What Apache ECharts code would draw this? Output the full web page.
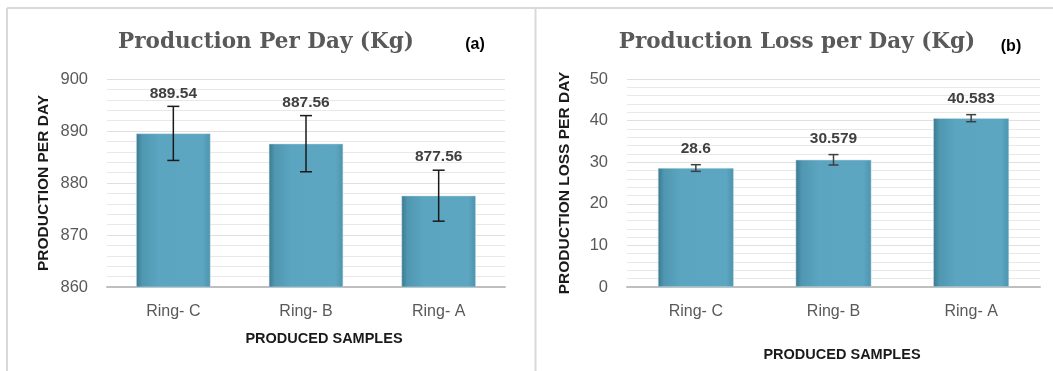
<!DOCTYPE html>
<html><head><meta charset="utf-8">
<script src="https://cdn.jsdelivr.net/npm/echarts@6/dist/echarts.min.js"></script>
<style>html,body{margin:0;padding:0;background:#fff}#c{width:1053px;height:371px}</style>
</head><body><div id="c"></div>
<script>
const categories = ['Ring- C', 'Ring- B', 'Ring- A'];
const productionValues = [889.54, 887.56, 877.56];
const productionErrors = [5.2, 5.4, 4.9];
const lossValues = [28.6, 30.579, 40.583];
const lossErrors = [0.8, 1.25, 0.85];
const productionTicks = { min: 860, max: 900, interval: 10 };
const lossTicks = { min: 0, max: 50, interval: 10 };

const chart = echarts.init(document.getElementById('c'), null, { renderer: 'canvas' });
const barColor = new echarts.graphic.LinearGradient(0, 0, 1, 0, [
  { offset: 0, color: '#3b7890' },
  { offset: 0.08, color: '#5097b1' },
  { offset: 0.3, color: '#5ba5c0' },
  { offset: 0.9, color: '#5ca6c1' },
  { offset: 1, color: '#4d93ac' }
]);
const sans = '"Liberation Sans", Arial, sans-serif';

function errSeries(xi, yi, values, errors, color, cap, labelGap) {
  return {
    type: 'custom', xAxisIndex: xi, yAxisIndex: yi, z: 10,
    data: values.map((v, i) => [i, v, errors[i]]),
    renderItem: function (params, api) {
      const i = api.value(0), v = api.value(1), e = api.value(2);
      const top = api.coord([i, v + e]);
      const bot = api.coord([i, v - e]);
      const st = { stroke: color, lineWidth: 1.5 };
      return { type: 'group', children: [
        { type: 'line', shape: { x1: top[0], y1: top[1], x2: bot[0], y2: bot[1] }, style: st },
        { type: 'line', shape: { x1: top[0] - cap, y1: top[1], x2: top[0] + cap, y2: top[1] }, style: st },
        { type: 'line', shape: { x1: bot[0] - cap, y1: bot[1], x2: bot[0] + cap, y2: bot[1] }, style: st },
        { type: 'text', style: { text: String(values[params.dataIndex]), x: top[0], y: top[1] - labelGap,
            align: 'center', verticalAlign: 'middle', fill: '#404040',
            font: 'bold 15.5px ' + sans } }
      ]};
    }
  };
}

function yAxis(gi, t, name, gap) {
  return {
    type: 'value', gridIndex: gi, min: t.min, max: t.max, interval: t.interval,
    name: name, nameLocation: 'middle', nameGap: gap, nameRotate: 90, nameMoveOverlap: false,
    nameTextStyle: { fontFamily: sans, fontWeight: 'bold', fontSize: 15.5, color: '#1a1a1a' },
    axisLine: { show: false }, axisTick: { show: false },
    axisLabel: { margin: 19, color: '#595959', fontSize: 16.5, fontFamily: sans },
    splitLine: { show: true, lineStyle: { color: '#e0e0e0', width: 1 } },
    minorTick: { show: false, splitNumber: 5 },
    minorSplitLine: { show: true, lineStyle: { color: '#e8e8e8', width: 1 } }
  };
}
function xAxis(gi) {
  return {
    type: 'category', gridIndex: gi, data: categories,
    axisLine: { show: true, lineStyle: { color: '#bfbfbf', width: 2 } },
    axisTick: { show: false },
    axisLabel: { margin: 17, color: '#595959', fontSize: 16, fontFamily: sans }
  };
}

chart.setOption({
  animation: false,
  grid: [
    { left: 107, right: 548, top: 79, bottom: 84 },
    { left: 627, right: 13, top: 79, bottom: 84 }
  ],
  xAxis: [xAxis(0), xAxis(1)],
  yAxis: [yAxis(0, productionTicks, 'PRODUCTION PER DAY', 55), yAxis(1, lossTicks, 'PRODUCTION LOSS PER DAY', 54)],
  series: [
    { type: 'bar', xAxisIndex: 0, yAxisIndex: 0, data: productionValues, barWidth: '56%',
      itemStyle: { color: barColor, borderColor: '#c9e0e9', borderWidth: 0.5 } },
    { type: 'bar', xAxisIndex: 1, yAxisIndex: 1, data: lossValues, barWidth: '55%',
      itemStyle: { color: barColor, borderColor: '#c9e0e9', borderWidth: 0.5 } },
    errSeries(0, 0, productionValues, productionErrors, '#1a1a1a', 6, 13),
    errSeries(1, 1, lossValues, lossErrors, '#404040', 5, 16)
  ],
  graphic: [
    { type: 'line', shape: { x1: 7, y1: 8, x2: 1053, y2: 8 }, style: { stroke: '#d9d9d9', lineWidth: 2 } },
    { type: 'line', shape: { x1: 7, y1: 8, x2: 7, y2: 371 }, style: { stroke: '#d9d9d9', lineWidth: 2 } },
    { type: 'line', shape: { x1: 535.5, y1: 8, x2: 535.5, y2: 371 }, style: { stroke: '#d9d9d9', lineWidth: 2 } },
    { type: 'text', x: 266, y: 42, style: { text: 'Production Per Day (Kg)', align: 'center', verticalAlign: 'middle',
      fill: '#595959', font: 'bold 21.5px "DejaVu Serif", serif' } },
    { type: 'text', x: 797, y: 42, style: { text: 'Production Loss per Day (Kg)', align: 'center', verticalAlign: 'middle',
      fill: '#595959', font: 'bold 21.5px "DejaVu Serif", serif' } },
    { type: 'text', x: 475, y: 45, style: { text: '(a)', align: 'center', verticalAlign: 'middle',
      fill: '#000', font: 'bold 16px ' + sans } },
    { type: 'text', x: 1011, y: 47, style: { text: '(b)', align: 'center', verticalAlign: 'middle',
      fill: '#000', font: 'bold 16px ' + sans } },
    { type: 'text', x: 324, y: 339, style: { text: 'PRODUCED SAMPLES', align: 'center', verticalAlign: 'middle',
      fill: '#1a1a1a', font: 'bold 14.5px ' + sans } },
    { type: 'text', x: 842, y: 355, style: { text: 'PRODUCED SAMPLES', align: 'center', verticalAlign: 'middle',
      fill: '#1a1a1a', font: 'bold 14.5px ' + sans } }
  ]
});
</script></body></html>
